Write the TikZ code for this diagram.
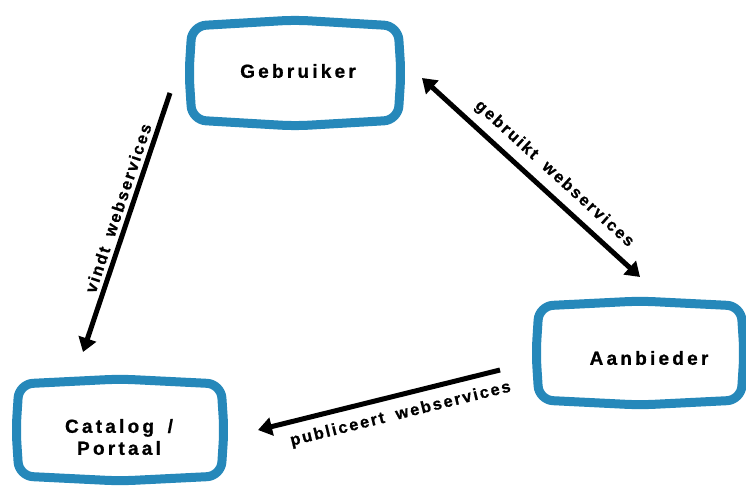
\documentclass[tikz,border=0pt]{standalone}
\usepackage{fontspec}
\setmainfont{Liberation Sans}
\newfontfamily\boxfont[LetterSpace=17,WordSpace=1.6,BoldFeatures={FakeBold=0.8}]{Liberation Sans}
\newfontfamily\lblfont[LetterSpace=12,WordSpace=1.8,BoldFeatures={FakeBold=0.8}]{Liberation Sans}
\usetikzlibrary{arrows.meta,calc}
\definecolor{boxblue}{RGB}{38,136,186}
\tikzset{
  tvnode/.style={inner sep=0pt, align=center,
    font=\boxfont\bfseries\fontsize{19}{22}\selectfont},
  boxline/.style={draw=boxblue, line width=9pt, rounded corners=14pt, line join=round},
  conn/.style={draw=black, line width=5pt},
  tip/.style={-{Triangle[length=14pt,width=18pt]}},
  lbl/.style={font=\lblfont\bfseries\fontsize{16.5}{18}\selectfont, sloped, inner sep=0pt}
}
\newcommand\tvbox[5]{% centre, half width, half height, top/bottom bulge, side bulge
  \draw[boxline] ($(#1)+(-#2,-#3)$) -- ($(#1)+(0,-#3-#4)$) -- ($(#1)+(#2,-#3)$)
    -- ($(#1)+(#2+#5,0)$) -- ($(#1)+(#2,#3)$) -- ($(#1)+(0,#3+#4)$)
    -- ($(#1)+(-#2,#3)$) -- ($(#1)+(-#2-#5,0)$) -- cycle;}
\begin{document}
\begin{tikzpicture}[x=1pt,y=-1pt]
\useasboundingbox (0,0) rectangle (746,486);
\fill[white] (0,0) rectangle (746,486);
% boxes
\coordinate (gebc) at (295,73);
\coordinate (catc) at (120,430);
\coordinate (aanc) at (640,353);
\tvbox{gebc}{103}{47}{6}{3}
\tvbox{catc}{101}{46}{5}{3}
\tvbox{aanc}{101}{47}{5}{3}
\node[tvnode] (geb) at (298,71) {Gebruiker};
\node[tvnode] (cat) at (119,437) {Catalog /\\Portaal};
\node[tvnode] (aan) at (649,358) {Aanbieder};
% connector end points
\coordinate (a1s) at (170,93);
\coordinate (a1e) at (83,352);
\coordinate (a2s) at (422,78);
\coordinate (a2e) at (640,277);
\coordinate (a3s) at (500,370);
\coordinate (a3e) at (258,430);
% connectors
\draw[conn,tip] (a1s) -- node[lbl, pos=0.46, above=4pt] (l1) {vindt webservices} (a1e);
\draw[conn,{Triangle[length=14pt,width=18pt]}-{Triangle[length=14pt,width=18pt]}] (a2s) -- node[lbl, pos=0.55, above=8pt] (l2) {gebruikt webservices} (a2e);
\draw[conn,tip] (a3s) -- node[lbl, pos=0.43, below=9pt] (l3) {publiceert webservices} (a3e);
\end{tikzpicture}
\end{document}
